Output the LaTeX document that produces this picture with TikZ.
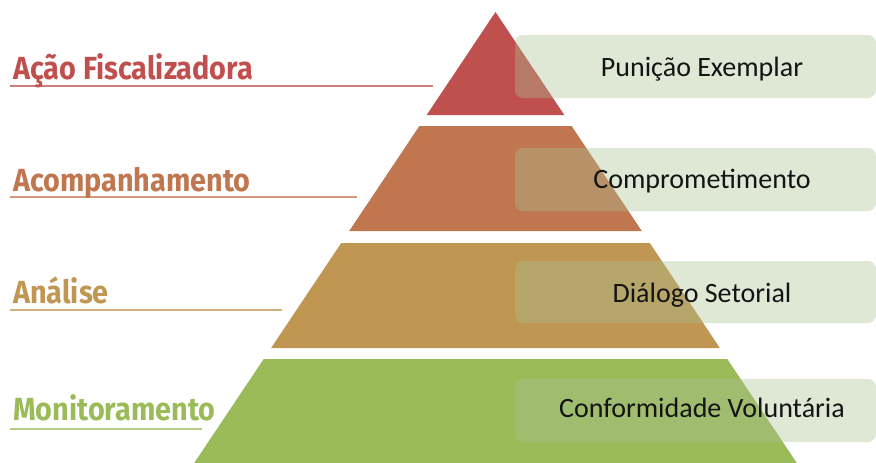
\documentclass[tikz,border=0pt]{standalone}
\usepackage{fontspec}
\setmainfont{Carlito}
\newfontfamily\labelfont{Fira Sans}[FakeStretch=0.9]
\definecolor{cRed}{RGB}{192,80,77}
\definecolor{cOrange}{RGB}{192,119,79}
\definecolor{cTan}{RGB}{192,151,82}
\definecolor{cGreen}{RGB}{155,187,89}
\definecolor{cBox}{RGB}{170,192,145}
\definecolor{cText}{RGB}{20,20,20}
\tikzset{
  band/.style={draw=none},
  infobox/.style={fill=cBox, fill opacity=0.38, draw=none, rounded corners=8pt},
  infotext/.style={anchor=base, text=cText, font=\fontsize{28}{32}\selectfont, inner sep=0pt},
  lvllabel/.style={anchor=base west, inner sep=0pt, font=\labelfont\bfseries\fontsize{32}{36}\selectfont},
  uline/.style={line width=1.6pt, opacity=0.75},
}
\begin{document}
\begin{tikzpicture}[x=1pt,y=-1pt]
\useasboundingbox (0,0) rectangle (876,463);
% pyramid bands
\fill[band, cRed] (495.5,12) -- (564.3,115) -- (426.7,115) -- cycle;
\fill[band, cOrange] (419.4,126) -- (571.6,126) -- (641.8,231) -- (349.2,231) -- cycle;
\fill[band, cTan] (341.2,243) -- (649.8,243) -- (719.9,348) -- (271.1,348) -- cycle;
\fill[band, cGreen] (263.7,359) -- (727.3,359) -- (796.8,463) -- (194.2,463) -- cycle;
% boxes
\path[infobox] (515,35) rectangle (876,98);
\path[infobox] (515,148) rectangle (876,211);
\path[infobox] (515,261) rectangle (876,323);
\path[infobox] (515,379) rectangle (876,442);
% box texts
\node[infotext] (t1) at (702,76) {Punição Exemplar};
\node[infotext] (t2) at (702,188) {Comprometimento};
\node[infotext] (t3) at (702,302) {Diálogo Setorial};
\node[infotext] (t4) at (702,417) {Conformidade Voluntária};
% left labels
\node[lvllabel, text=cRed] (l1) at (13,79) {Ação Fiscalizadora};
\node[lvllabel, text=cOrange] (l2) at (13,191) {Acompanhamento};
\node[lvllabel, text=cTan] (l3) at (13,303) {Análise};
\node[lvllabel, text=cGreen] (l4) at (13,420) {Monitoramento};
% underlines
\coordinate (u1a) at (10,86); \coordinate (u1b) at (433,86);
\coordinate (u2a) at (10,197); \coordinate (u2b) at (357,197);
\coordinate (u3a) at (10,310); \coordinate (u3b) at (282,310);
\coordinate (u4a) at (10,429); \coordinate (u4b) at (202,429);
\draw[uline, cRed] (u1a) -- (u1b);
\draw[uline, cOrange] (u2a) -- (u2b);
\draw[uline, cTan] (u3a) -- (u3b);
\draw[uline, cGreen] (u4a) -- (u4b);
\end{tikzpicture}
\end{document}
